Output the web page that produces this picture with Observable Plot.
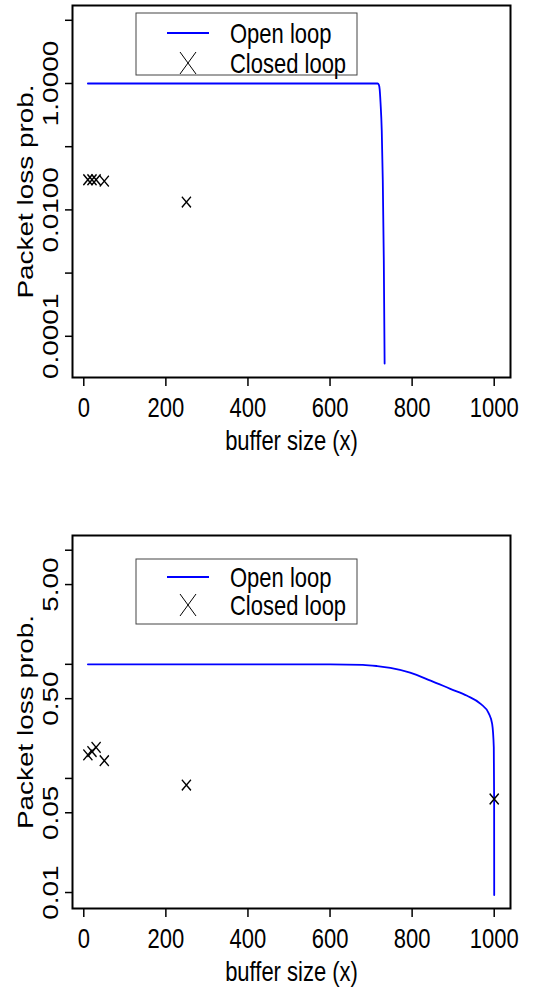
<!DOCTYPE html>
<html>
<head>
<meta charset="utf-8">
<script src="https://cdn.jsdelivr.net/npm/d3@7"></script>
<script src="https://cdn.jsdelivr.net/npm/@observablehq/plot@0.6"></script>
<style>
  html, body { margin: 0; padding: 0; background: #fff; }
  #chart svg { display: block; }
</style>
</head>
<body>
<div id="chart"></div>
<script>
// ---------- data ----------
const xTicks = [0, 200, 400, 600, 800, 1000];
const xTitle = "buffer size (x)";
const yTitle = "Packet loss prob.";
const legendLabels = ["Open loop", "Closed loop"];

// top panel
const topOpenX = [10, 300, 600, 710, 716, 719, 721, 723, 726, 728.5, 731, 733];
const topOpenY = [1, 1, 1, 1, 1, 0.95, 0.8, 0.5, 0.18, 0.03, 0.0016, 0.000037];
const topClosedX = [10, 20, 30, 50, 250];
const topClosedY = [0.030, 0.030, 0.030, 0.0285, 0.0133];
const topYTicks = [10, 1, 0.1, 0.01, 0.001, 0.0001];
const topYLabelValues = [1, 0.01, 0.0001];
const topYLabelText = ["1.0000", "0.0100", "0.0001"];

// bottom panel
const botOpenX = [10, 300, 528, 600, 680, 715, 747, 795, 845, 893, 934, 967, 987, 995, 999, 999.8, 1000];
const botOpenY = [1, 1, 1, 1, 0.99, 0.965, 0.93, 0.845, 0.72, 0.61, 0.53, 0.45, 0.37, 0.30, 0.187, 0.066, 0.0095];
const botClosedX = [10, 20, 30, 50, 250, 1000];
const botClosedY = [0.161, 0.172, 0.187, 0.143, 0.0875, 0.066];
const botYTicks = [10, 5, 1, 0.5, 0.1, 0.05, 0.01];
const botYLabelValues = [5, 0.5, 0.05, 0.01];
const botYLabelText = ["5.00", "0.50", "0.05", "0.01"];

// ---------- drawing ----------
const FONT = "'Liberation Sans', Arial, Helvetica, sans-serif";
const FS = 22;
const STRETCH = 1.27;
const BLUE = "#0000ff";

function panel(cfg) {
  const open = cfg.openX.map((x, i) => ({x, y: cfg.openY[i]}));
  const closed = cfg.closedX.map((x, i) => ({x, y: cfg.closedY[i]}));
  const labs = cfg.labelValues.map((v, i) => ({v, t: cfg.labelText[i]}));
  const svg = Plot.plot({
    width: 547,
    height: cfg.height,
    marginLeft: 72,
    marginRight: 37,
    marginTop: cfg.marginTop,
    marginBottom: cfg.marginBottom,
    x: {domain: [-27.5, 1039.7], label: null},
    y: {type: "log", domain: cfg.yDomain, label: null},
    style: {fontFamily: FONT, background: "white", color: "black"},
    marks: [
      Plot.axisX({ticks: xTicks, tickSize: 9, tickFormat: () => "", strokeWidth: 1.5, label: null}),
      Plot.axisY({ticks: cfg.yTicks, tickSize: 7, tickFormat: () => "", strokeWidth: 1.5, label: null}),
      Plot.text(xTicks, {x: d => d, text: d => String(d), frameAnchor: "bottom", dy: 31,
        fontSize: FS, lineAnchor: "middle", fill: "black"}),
      Plot.text(labs, {y: "v", text: "t", frameAnchor: "left", dx: -22, rotate: -90,
        fontSize: FS, textAnchor: "middle", lineAnchor: "middle", fill: "black"}),
      Plot.text([xTitle], {text: d => d, frameAnchor: "bottom", dy: 64, fontSize: FS,
        lineAnchor: "middle", fill: "black"}),
      Plot.text([yTitle], {text: d => d, frameAnchor: "left", dx: -47, rotate: -90,
        fontSize: FS, textAnchor: "middle", lineAnchor: "middle", fill: "black"}),
      Plot.line(open, {x: "x", y: "y", stroke: BLUE, strokeWidth: 1.8, curve: "monotone-x"}),
      Plot.dot(closed, {x: "x", y: "y", symbol: "times", r: 4.2, stroke: "black", strokeWidth: 1.3}),
      Plot.frame({stroke: "black", strokeWidth: 2})
    ]
  });
  const s = d3.select(svg);
  // emulate the vertically stretched rendering of the original
  s.selectAll("text").each(function () {
    const t = this.getAttribute("transform") || "";
    this.setAttribute("transform", t + (t.includes("rotate") ? ` scale(${STRETCH},1)` : ` scale(1,${STRETCH})`));
  });
  s.selectAll('g[aria-label="dot"] path').each(function () {
    const t = this.getAttribute("transform") || "";
    this.setAttribute("transform", t + " scale(1,1.18)");
  });
  // legend
  const L = cfg.legend;
  const g = s.append("g").attr("font-family", FONT).attr("font-size", FS).attr("text-anchor", "start");
  g.append("rect").attr("x", L.x).attr("y", L.y).attr("width", L.w).attr("height", L.h)
    .attr("fill", "white").attr("stroke", "#444").attr("stroke-width", 1);
  const y1 = L.y + L.r1, y2 = L.y + L.r2;
  g.append("line").attr("x1", L.x + 31).attr("x2", L.x + 73).attr("y1", y1).attr("y2", y1)
    .attr("stroke", BLUE).attr("stroke-width", 2);
  const cx = L.x + 52;
  g.append("path").attr("d", `M${cx - 8},${y2 - 11}L${cx + 8},${y2 + 11}M${cx - 8},${y2 + 11}L${cx + 8},${y2 - 11}`)
    .attr("stroke", "black").attr("stroke-width", 1).attr("fill", "none");
  [y1, y2].forEach((yy, i) => {
    g.append("text").attr("transform", `translate(${L.x + 94},${yy}) scale(1,${STRETCH})`)
      .attr("text-anchor", "start").attr("dy", "0.35em").attr("fill", "black").text(legendLabels[i]);
  });
  return svg;
}

const root = document.getElementById("chart");
root.appendChild(panel({
  openX: topOpenX, openY: topOpenY, closedX: topClosedX, closedY: topClosedY,
  yDomain: [Math.pow(10, -4.652), Math.pow(10, 1.234)],
  yTicks: topYTicks, labelValues: topYLabelValues, labelText: topYLabelText,
  height: 494, marginTop: 5, marginBottom: 117,
  legend: {x: 136, y: 13, w: 221, h: 62, r1: 20, r2: 50}
}));
root.appendChild(panel({
  openX: botOpenX, openY: botOpenY, closedX: botClosedX, closedY: botClosedY,
  yDomain: [Math.pow(10, -2.140), Math.pow(10, 1.129)],
  yTicks: botYTicks, labelValues: botYLabelValues, labelText: botYLabelText,
  height: 494, marginTop: 41, marginBottom: 80,
  legend: {x: 136, y: 65, w: 221, h: 65, r1: 18, r2: 46}
}));
</script>
</body>
</html>
